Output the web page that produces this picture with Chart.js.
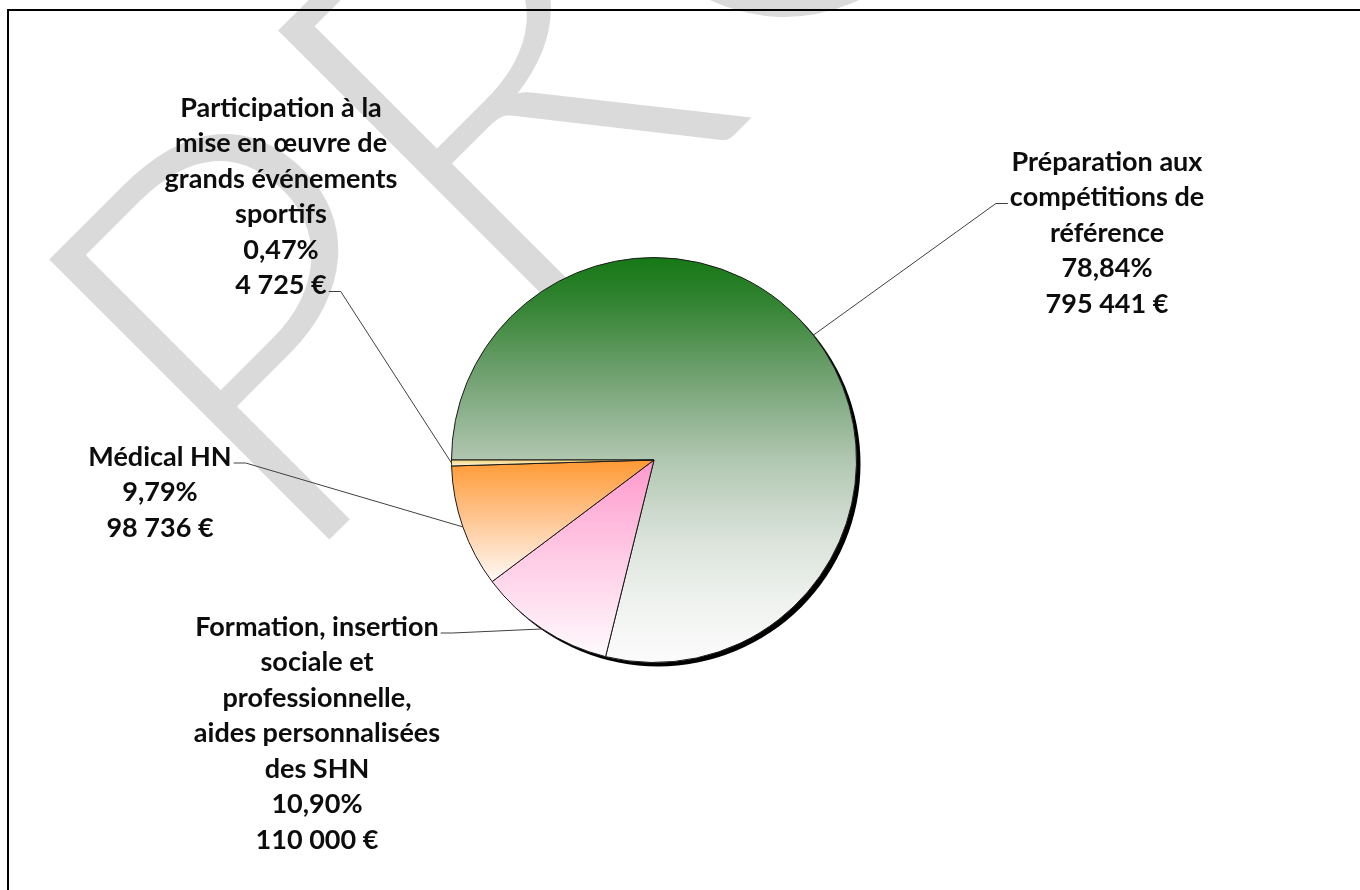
<!DOCTYPE html>
<html lang="fr">
<head>
<meta charset="utf-8">
<title>Répartition des crédits</title>
<script src="https://cdn.jsdelivr.net/npm/chart.js@4.4.1/dist/chart.umd.min.js"></script>
<style>
  html, body { margin: 0; padding: 0; background: #fff; overflow: hidden; }
  #wrap { position: relative; width: 1360px; height: 890px; }
  #watermark { position: absolute; left: 0; top: 0; }
  #frame { position: absolute; left: 7px; top: 9px; width: 1400px; height: 1000px; border: 2px solid #000; }
  #chart { position: absolute; left: 0; top: 0; }
</style>
</head>
<body>
<div id="wrap">
  <svg id="watermark" width="1360" height="890">
    <text x="288" y="581" transform="rotate(-45 288 581)" font-family="Lato, 'Open Sans', sans-serif" font-weight="300" font-size="560" fill="#dadada">PROJET</text>
  </svg>
  <div id="frame"></div>
  <canvas id="chart" width="1360" height="890"></canvas>
</div>
<script>
// slices, in drawing order (clockwise from 9 o'clock)
const categories = [
  ['Préparation aux', 'compétitions de', 'référence'],
  ['Formation, insertion', 'sociale et', 'professionnelle,', 'aides personnalisées', 'des SHN'],
  ['Médical HN'],
  ['Participation à la', 'mise en œuvre de', 'grands événements', 'sportifs'],
];
const amounts = [795441, 110000, 98736, 4725];

// gradient stops per slice (top of slice -> bottom of slice)
const sliceStops = [
  [[0, '#157815'], [0.12, '#358535'], [0.28, '#6d9f6d'], [0.5, '#b1c7b1'], [0.7, '#dbe3db'], [0.85, '#eff2ef'], [1, '#fbfbfb']],
  [[0, '#ff99cc'], [0.5, '#ffcce6'], [1, '#fffafd']],
  [[0, '#ff9933'], [0.5, '#ffc896'], [1, '#fffaf5']],
  [[0, '#f2d27a'], [1, '#fff6dc']],
];

// where each label block sits (centre x, centre of first line) and where its leader starts
const calloutLayout = [
  { x: 1107, y: 162, tickLine: 1, side: 'left' },
  { x: 317, y: 627, tickLine: 0, side: 'right' },
  { x: 160, y: 457, tickLine: 0, side: 'right' },
  { x: 281, y: 108, tickLine: 5, side: 'right' },
];
const LINE_HEIGHT = 35.5;

const formatPercent = (v) => `${(v * 100).toFixed(2).replace('.', ',')}%`;
const formatEuro = (v) => `${Math.round(v).toString().replace(/\B(?=(\d{3})+(?!\d))/g, ' ')} €`;

// fit the label font so the widths match the original Calibri labels
const fitFontSize = () => {
  const c = document.createElement('canvas').getContext('2d');
  c.font = 'bold 100px Lato, sans-serif';
  const w = c.measureText('Préparation aux').width;
  return Math.min(29, 100 * 191 / w);
};
const labelFontSize = fitFontSize();

const sliceBox = (arc) => {
  const ys = [arc.y,
    arc.y + Math.sin(arc.startAngle) * arc.outerRadius,
    arc.y + Math.sin(arc.endAngle) * arc.outerRadius];
  const within = (a) => {
    const TAU = Math.PI * 2;
    let s = ((arc.startAngle % TAU) + TAU) % TAU;
    let t = ((a % TAU) + TAU) % TAU;
    if (t < s) t += TAU;
    return t - s <= arc.endAngle - arc.startAngle;
  };
  if (within(Math.PI / 2)) ys.push(arc.y + arc.outerRadius);
  if (within(-Math.PI / 2)) ys.push(arc.y - arc.outerRadius);
  return { top: Math.min(...ys), bottom: Math.max(...ys) };
};

const gradientPlugin = {
  id: 'sliceGradients',
  beforeDatasetsDraw(chart) {
    const ctx = chart.ctx;
    const meta = chart.getDatasetMeta(0);
    // drop shadow under the pie
    const first = meta.data[0];
    ctx.save();
    ctx.fillStyle = '#000';
    ctx.beginPath();
    ctx.arc(first.x + 4, first.y + 4, first.outerRadius, 0, Math.PI * 2);
    ctx.fill();
    ctx.restore();

    meta.data.forEach((arc, i) => {
      const box = sliceBox(arc);
      const g = ctx.createLinearGradient(0, box.top, 0, Math.max(box.bottom, box.top + 1));
      sliceStops[i].forEach(([p, c]) => g.addColorStop(p, c));
      arc.options.backgroundColor = g;
    });
  }
};

const calloutPlugin = {
  id: 'callouts',
  afterDatasetsDraw(chart) {
    const ctx = chart.ctx;
    const meta = chart.getDatasetMeta(0);
    const total = amounts.reduce((a, b) => a + b, 0);
    ctx.save();
    ctx.font = `bold ${labelFontSize}px Lato, sans-serif`;
    ctx.textAlign = 'center';
    ctx.textBaseline = 'middle';
    meta.data.forEach((arc, i) => {
      const spot = calloutLayout[i];
      const lines = [...categories[i], formatPercent(amounts[i] / total), formatEuro(amounts[i])];
      ctx.fillStyle = '#0d0d0d';
      lines.forEach((line, j) => ctx.fillText(line, spot.x, spot.y + j * LINE_HEIGHT));

      const w = ctx.measureText(lines[spot.tickLine]).width;
      const ty = spot.y + spot.tickLine * LINE_HEIGHT + 6;
      const dir = spot.side === 'right' ? 1 : -1;
      const x0 = spot.x + dir * (w / 2 + 2);
      const x1 = x0 + dir * 12;
      const mid = (arc.startAngle + arc.endAngle) / 2;
      const px = arc.x + Math.cos(mid) * arc.outerRadius;
      const py = arc.y + Math.sin(mid) * arc.outerRadius;
      ctx.strokeStyle = '#404040';
      ctx.lineWidth = 1;
      ctx.beginPath();
      ctx.moveTo(x0, ty);
      ctx.lineTo(x1, ty);
      ctx.lineTo(px, py);
      ctx.stroke();
    });
    ctx.restore();
  }
};

new Chart(document.getElementById('chart'), {
  type: 'pie',
  data: {
    labels: categories,
    datasets: [{
      data: amounts,
      backgroundColor: sliceStops.map((s) => s[0][1]),
      borderColor: '#1a1a1a',
      borderWidth: 1,
    }]
  },
  options: {
    responsive: false,
    animation: false,
    events: [],
    rotation: -90,
    layout: { padding: { left: 451, right: 503, top: 257, bottom: 227 } },
    plugins: {
      legend: { display: false },
      tooltip: { enabled: false },
    },
  },
  plugins: [gradientPlugin, calloutPlugin],
});
</script>
</body>
</html>
